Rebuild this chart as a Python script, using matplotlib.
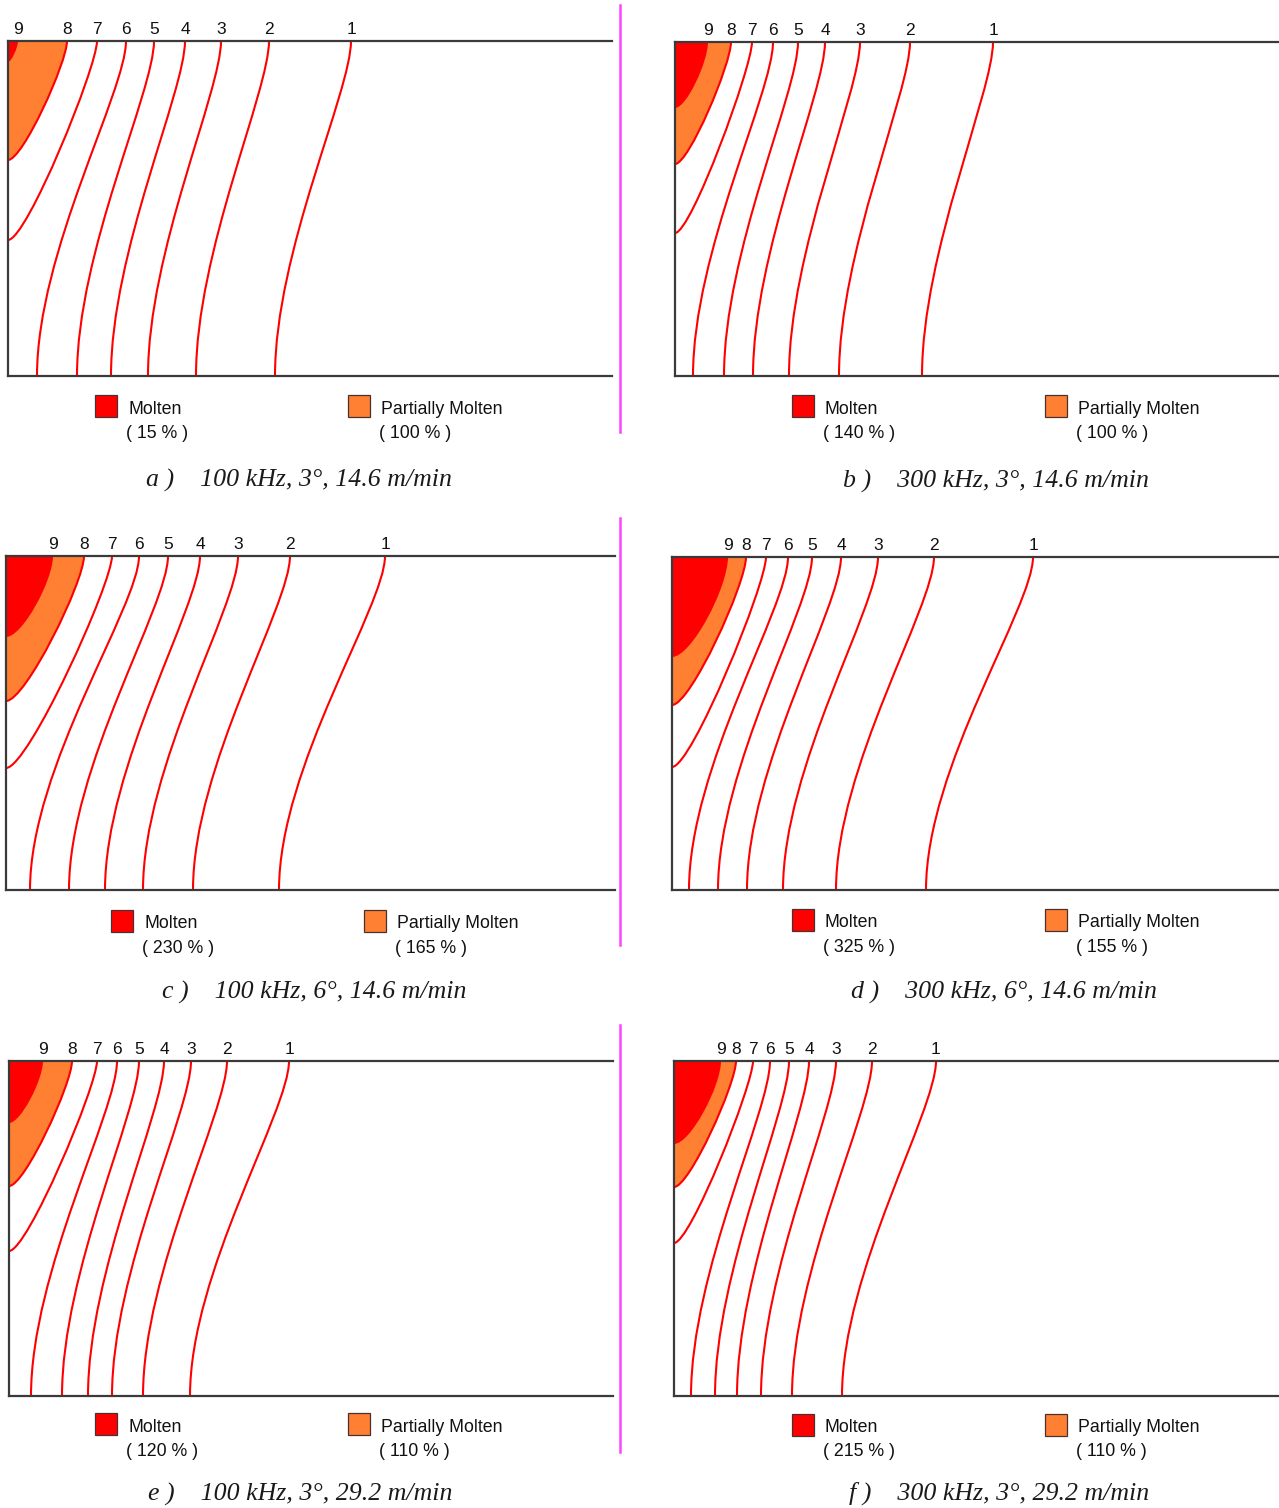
import matplotlib
matplotlib.use('Agg')
import matplotlib.pyplot as plt
from matplotlib.path import Path
from matplotlib.patches import PathPatch, Rectangle

FIG_W, FIG_H = 1279, 1508

captions = ['a )    100 kHz, 3°, 14.6 m/min',
            'b )    300 kHz, 3°, 14.6 m/min',
            'c )    100 kHz, 6°, 14.6 m/min',
            'd )    300 kHz, 6°, 14.6 m/min',
            'e )    100 kHz, 3°, 29.2 m/min',
            'f )    300 kHz, 3°, 29.2 m/min']
molten_pct = [15, 140, 230, 325, 120, 215]
partial_pct = [100, 100, 165, 155, 110, 110]

# x (px from left edge) where contours 9..1 meet the top surface
top_x = [[10, 59, 89, 118, 146, 177, 213, 261, 343],
         [33, 56, 77, 98, 123, 150, 185, 235, 318],
         [47, 78, 106, 133, 162, 194, 232, 284, 379],
         [56, 74, 94, 116, 140, 169, 206, 262, 361],
         [34, 63, 88, 108, 130, 155, 182, 218, 280],
         [47, 62, 79, 96, 115, 135, 162, 198, 262]]
# depth where contours 9, 8, 7 meet the left edge
edge_y = [[21, 119, 199],
          [66, 122, 191],
          [81, 145, 212],
          [100, 148, 210],
          [62, 125, 190],
          [83, 126, 182]]
# x where contours 6..1 meet the bottom
bottom_x = [[29, 69, 103, 140, 188, 267],
            [18, 49, 78, 114, 164, 247],
            [24, 63, 99, 137, 187, 273],
            [17, 46, 75, 111, 164, 254],
            [22, 53, 79, 103, 134, 181],
            [17, 41, 63, 87, 118, 168]]

# panel boxes in pixels: left, top, bottom, right
boxes = [(8, 41, 376, 612), (675, 42, 376, 1279),
         (6, 556, 890, 615), (672, 557, 890, 1279),
         (9, 1061, 1396, 613), (674, 1061, 1396, 1279)]
legend_x = [(95, 348), (792, 1045), (111, 364), (792, 1045), (95, 348), (792, 1045)]
legend_y = [395, 395, 910, 909, 1413, 1414]
caption_xy = [(299, 480), (996, 481), (314, 992), (1004, 992), (300, 1494), (999, 1493)]
divider_y = [(5, 432), (518, 945), (1025, 1452)]

RED = '#FF0000'
ORANGE = '#FF8033'
SANS = 'Liberation Sans'
SERIF = 'Liberation Serif'

# bezier shape for edge contours (red zone, orange zone, line 7)
edge_shape = [(0.30, 0.35), (0.18, 0.25), (0.13, 0.21)]


def fx(x):
    return x / FIG_W


def fy(y):
    return 1 - y / FIG_H


def edge_verts(xt, ye, c1, b):
    return [(xt, 0), (xt, c1 * ye), (b * xt, ye), (0, ye)]


C4 = [Path.MOVETO, Path.CURVE4, Path.CURVE4, Path.CURVE4]

fig = plt.figure(figsize=(FIG_W / 100, FIG_H / 100), dpi=100)

for i, (l, t, b, r) in enumerate(boxes):
    W, H = r - l, b - t
    ax = fig.add_axes([fx(l), fy(b), fx(W), H / FIG_H])
    ax.set_xlim(0, W)
    ax.set_ylim(H, 0)
    ax.set_xticks([])
    ax.set_yticks([])
    ax.spines['right'].set_visible(False)
    for s in ['left', 'top', 'bottom']:
        ax.spines[s].set_color('#3a3a3a')
        ax.spines[s].set_linewidth(1.6)
        ax.spines[s].set_zorder(5)

    # filled zones: orange (partially molten) then red (molten)
    for k, col in [(1, ORANGE), (0, RED)]:
        c1, bb = edge_shape[k]
        v = edge_verts(top_x[i][k], edge_y[i][k], c1, bb)
        path = Path([(0, 0)] + v + [(0, 0)],
                    [Path.MOVETO, Path.LINETO, Path.CURVE4, Path.CURVE4,
                     Path.CURVE4, Path.CLOSEPOLY])
        ax.add_patch(PathPatch(path, facecolor=col, edgecolor='none', zorder=1))

    # contours 8 and 7 ending on the left edge
    for k in [1, 2]:
        c1, bb = edge_shape[k]
        v = edge_verts(top_x[i][k], edge_y[i][k], c1, bb)
        ax.add_patch(PathPatch(Path(v, C4), fill=False, edgecolor=RED,
                               lw=1.5, zorder=3))

    # contours 6..1 running to the bottom
    for k in range(6):
        xt = top_x[i][3 + k]
        xb = bottom_x[i][k]
        v = [(xt, 0), (xt, 0.15 * H), (xb, 0.63 * H), (xb, H)]
        ax.add_patch(PathPatch(Path(v, C4), fill=False, edgecolor=RED,
                               lw=1.5, zorder=3))

    # contour numbers
    for k, xt in enumerate(top_x[i]):
        ax.annotate(str(9 - k), (xt, 0), xytext=(0, 3), textcoords='offset points',
                    ha='center', va='bottom', fontsize=12.5, family=SANS,
                    color='#111111', annotation_clip=False)

    # legend
    ly = legend_y[i]
    for (sx, lab, pct, col) in [(legend_x[i][0], 'Molten', molten_pct[i], RED),
                                (legend_x[i][1], 'Partially Molten', partial_pct[i], ORANGE)]:
        fig.add_artist(Rectangle((fx(sx), fy(ly + 22)), 22 / FIG_W, 22 / FIG_H,
                                 facecolor=col, edgecolor='#4a3030', lw=0.9,
                                 transform=fig.transFigure))
        fig.text(fx(sx + 33), fy(ly + 14), lab, ha='left', va='center',
                 fontsize=12.8, family=SANS, color='#111111')
        fig.text(fx(sx + 31), fy(ly + 38), '( {} % )'.format(pct), ha='left', va='center',
                 fontsize=12.8, family=SANS, color='#111111')

    cx, cy = caption_xy[i]
    fig.text(fx(cx), fy(cy), captions[i], ha='center', va='center',
             fontsize=18.6, family=SERIF, style='italic', color='#1a1a1a')

# magenta dividers between columns
for (y0, y1) in divider_y:
    fig.add_artist(plt.Line2D([fx(620), fx(620)], [fy(y0), fy(y1)],
                              color='#FF44FF', lw=1.8, transform=fig.transFigure))

fig.savefig('out.png', dpi=100)
